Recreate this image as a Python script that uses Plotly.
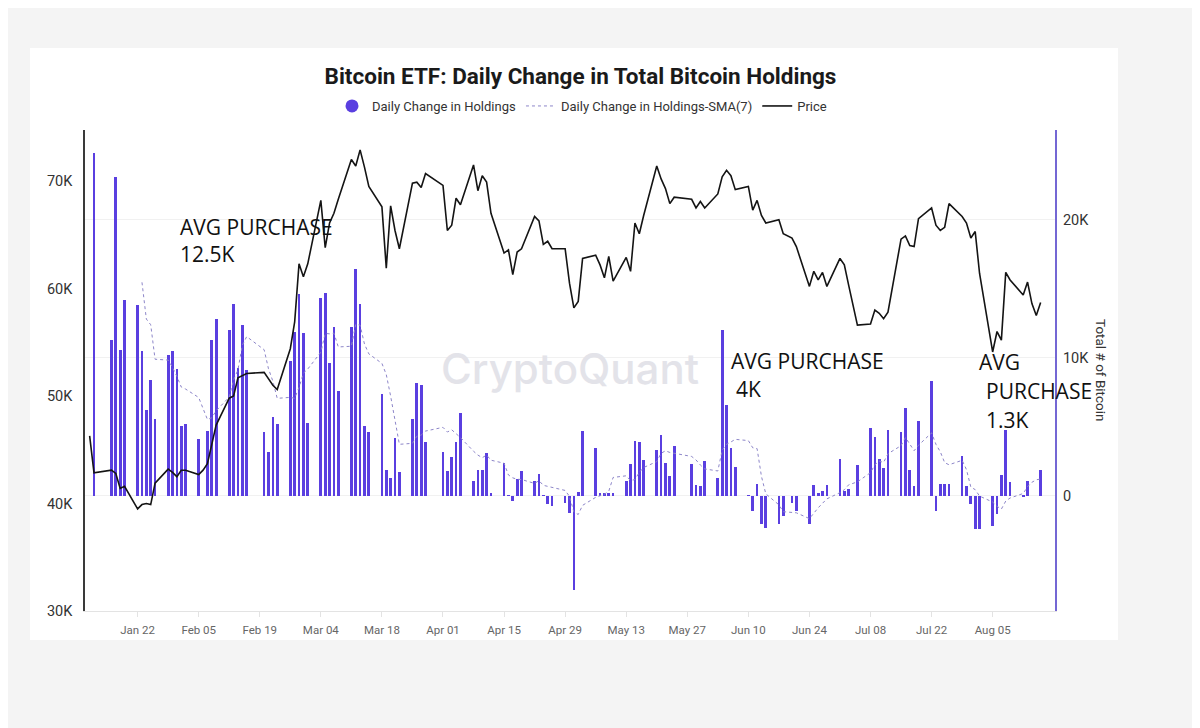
import plotly.graph_objects as go

# ---------------- data ----------------
dates = [
    "2024-01-11", "2024-01-12", "2024-01-16", "2024-01-17", "2024-01-18", "2024-01-19",
    "2024-01-22", "2024-01-23", "2024-01-24", "2024-01-25", "2024-01-26",
    "2024-01-29", "2024-01-30", "2024-01-31",
    "2024-02-01", "2024-02-02", "2024-02-05", "2024-02-06", "2024-02-07", "2024-02-08", "2024-02-09",
    "2024-02-12", "2024-02-13", "2024-02-14", "2024-02-15", "2024-02-16",
    "2024-02-20", "2024-02-21", "2024-02-22", "2024-02-23",
    "2024-02-26", "2024-02-27", "2024-02-28", "2024-02-29",
    "2024-03-01", "2024-03-04", "2024-03-05", "2024-03-06", "2024-03-07", "2024-03-08",
    "2024-03-11", "2024-03-12", "2024-03-13", "2024-03-14", "2024-03-15",
    "2024-03-18", "2024-03-19", "2024-03-20", "2024-03-21", "2024-03-22",
    "2024-03-25", "2024-03-26", "2024-03-27", "2024-03-28",
    "2024-04-01", "2024-04-02", "2024-04-03", "2024-04-04", "2024-04-05",
    "2024-04-08", "2024-04-09", "2024-04-10", "2024-04-11", "2024-04-12",
    "2024-04-15", "2024-04-16", "2024-04-17", "2024-04-18", "2024-04-19",
    "2024-04-22", "2024-04-23", "2024-04-24", "2024-04-25", "2024-04-26",
    "2024-04-29", "2024-04-30",
    "2024-05-01", "2024-05-02", "2024-05-03", "2024-05-06", "2024-05-07", "2024-05-08", "2024-05-09",
    "2024-05-10", "2024-05-13", "2024-05-14", "2024-05-15", "2024-05-16", "2024-05-17",
    "2024-05-20", "2024-05-21", "2024-05-22", "2024-05-23", "2024-05-24",
    "2024-05-28", "2024-05-29", "2024-05-30", "2024-05-31",
    "2024-06-03", "2024-06-04", "2024-06-05", "2024-06-06", "2024-06-07",
    "2024-06-10", "2024-06-11", "2024-06-12", "2024-06-13", "2024-06-14",
    "2024-06-17", "2024-06-18", "2024-06-20", "2024-06-21",
    "2024-06-24", "2024-06-25", "2024-06-26", "2024-06-27", "2024-06-28",
    "2024-07-01", "2024-07-02", "2024-07-03", "2024-07-05",
    "2024-07-08", "2024-07-09", "2024-07-10", "2024-07-11", "2024-07-12",
    "2024-07-15", "2024-07-16", "2024-07-17", "2024-07-18", "2024-07-19",
    "2024-07-22", "2024-07-23", "2024-07-24", "2024-07-25", "2024-07-26",
    "2024-07-29", "2024-07-30", "2024-07-31",
    "2024-08-01", "2024-08-02", "2024-08-05", "2024-08-06", "2024-08-07", "2024-08-08", "2024-08-09",
    "2024-08-12", "2024-08-13", "2024-08-14", "2024-08-15", "2024-08-16",
]

# BTC price, thousands of USD
price_k = [
    46.3, 42.85, 43.1, 42.8, 41.4, 41.6, 39.5, 39.9, 40.0, 39.9, 41.9, 43.2, 42.9, 42.5,
    43.1, 43.1, 42.7, 43.1, 43.7, 45.5, 47.3, 49.8, 50.0, 51.7, 51.9, 52.1, 52.2, 51.6, 51.0, 50.6,
    54.4, 56.9, 62.3, 61.1,
    62.3, 68.2, 63.8, 66.1, 67.0, 68.3, 72.0, 71.4, 72.9, 71.3, 69.5, 67.6, 61.9, 67.7, 65.4, 63.7,
    69.8, 69.9, 69.4, 70.7,
    69.6, 65.4, 65.9, 68.4, 67.8, 71.5, 69.1, 70.5, 69.9, 67.0, 63.3, 63.6, 61.3, 63.4, 63.7,
    66.7, 66.3, 64.1, 64.4, 63.7, 63.7, 60.5,
    58.2, 58.8, 62.8, 63.1, 62.2, 61.0, 63.0, 60.7, 62.9, 61.6, 66.1, 65.1, 66.8, 71.4, 70.2,
    69.3, 67.9, 68.5, 68.3, 67.5, 68.1, 67.5,
    68.8, 70.4, 71.0, 70.5, 69.2, 69.5, 67.3, 68.2, 66.8, 66.1, 66.4, 65.1, 64.7, 63.9,
    60.2, 61.6, 60.8, 61.5, 60.2,
    62.8, 62.2, 60.3, 56.6, 56.7, 58.0, 57.7, 57.2, 57.8, 64.6, 64.9, 64.0, 63.9, 66.5,
    67.5, 65.9, 65.4, 65.7, 67.9, 66.7, 66.1, 64.7,
    65.3, 61.4, 54.1, 56.0, 55.2, 61.5, 60.8, 59.4, 60.6, 58.6, 57.5, 58.7,
]

# Daily change in ETF holdings, thousands of BTC
change_k = [
    None, 24.8, 11.3, 23.1, 10.6, 14.2, 13.8, 10.5, 6.2, 8.4, 5.6, 10.2, 10.5, 9.2,
    5.1, 5.2, 4.1, 0.0, 4.7, 11.3, 12.8, 12.0, 13.9, 9.3, 12.4, 9.1, 4.6, 3.2, 5.7, 5.2,
    9.8, 11.9, 14.6, 11.8,
    5.3, 14.3, 14.7, 9.6, 12.2, 7.6, 12.2, 16.4, 13.9, 5.1, 4.6, 7.4, 1.9, 1.3, 4.2, 1.7,
    5.6, 8.2, 8.0, 3.9,
    3.2, 1.8, 2.8, 3.9, 6.0, 1.1, 1.9, 1.9, 3.1, 0.2, 2.4, 0.05, -0.4, 1.2, 1.8,
    1.1, 1.6, 0.05, -0.55, -0.7, -0.5, -1.2,
    -6.8, 0.3, 4.7, 3.5, 0.2, 0.2, 0.25, 0.25, 1.1, 2.3, 4.0, 3.9, 2.6, 3.3, 4.4,
    2.4, 1.45, 3.6, 2.3, 0.8, 0.7, 2.5,
    1.3, 12.0, 6.6, 3.5, 2.1, 0.05, -1.1, 0.85, -2.05, -2.3, -2.0, -1.45, -0.5, -1.1,
    -2.05, 0.8, 0.25, 0.35, 0.8,
    2.65, 0.35, 0.5, 2.25, 4.95, 4.3, 2.65, 2.0, 4.75, 4.6, 6.35, 1.9, 0.7, 5.4,
    8.3, -1.1, 0.85, 0.85, 0.85, 2.9, 0.7, -0.55,
    -2.4, -2.4, -2.2, -1.3, 1.5, 4.75, 1.0, -0.1, 1.05, 0.0, 0.0, 1.9,
]

# 7-day SMA line as drawn, thousands of BTC
sma7_k = [
    None, None, None, None, None, None, None, 15.47, 12.81, 12.40, 9.90, 9.84, 9.31, 8.66,
    7.89, 7.74, 7.13, 6.33, 5.54, 5.66, 6.17, 7.16, 8.40, 9.14, 10.91, 11.54, 10.59, 9.21, 8.31, 7.07,
    7.14, 7.07, 7.86, 8.89,
    9.19, 10.41, 11.77, 11.74, 11.79, 10.79, 10.84, 12.43, 12.37, 11.0, 10.29, 9.6, 8.79, 7.23, 5.49, 3.74,
    3.81, 4.33, 4.41, 4.70,
    4.97, 4.63, 4.79, 4.54, 4.23, 3.24, 2.96, 2.77, 2.96, 2.59, 2.37, 1.52, 1.31, 1.21, 1.19,
    0.91, 1.11, 0.77, 0.69, 0.64, 0.40, -0.03,
    -1.16, -1.34, -0.68, -0.1, 0.03, 0.13, 0.34, 1.34, 1.46, 1.11, 1.19, 1.71, 2.06, 2.49, 3.09,
    3.27, 3.15, 3.09, 2.86, 2.61, 2.24, 1.96,
    1.81, 3.31, 3.74, 3.91, 4.1, 4.01, 3.49, 3.43, 1.42, 0.15, -0.64, -1.14, -1.22, -1.22,
    -1.64, -1.23, -0.86, -0.53, -0.21,
    0.24, 0.45, 0.81, 1.02, 1.69, 2.26, 2.52, 2.43, 3.06, 3.64, 4.23, 3.79, 3.28, 3.67,
    4.57, 3.74, 3.2, 2.41, 2.26, 2.58, 1.91, 0.64,
    0.46, -0.01, -0.44, -0.75, -0.95, -0.37, -0.15, 0.18, 0.67, 0.99, 1.17, 1.23,
]

x_tick_dates = ["2024-01-22", "2024-02-05", "2024-02-19", "2024-03-04", "2024-03-18",
                "2024-04-01", "2024-04-15", "2024-04-29", "2024-05-13", "2024-05-27",
                "2024-06-10", "2024-06-24", "2024-07-08", "2024-07-22", "2024-08-05"]
x_tick_labels = ["Jan 22", "Feb 05", "Feb 19", "Mar 04", "Mar 18", "Apr 01", "Apr 15",
                 "Apr 29", "May 13", "May 27", "Jun 10", "Jun 24", "Jul 08", "Jul 22", "Aug 05"]
price_ticks = [30, 40, 50, 60, 70]
price_tick_labels = ["30K", "40K", "50K", "60K", "70K"]
hold_ticks = [0, 10, 20]
hold_tick_labels = ["0", "10K", "20K"]

# ---------------- styling / layout ----------------
W, H = 1200, 728
OFF = 8  # page body margin: the figure is drawn 8px right and 8px down
# plot area in screen pixels (as in the reference)
SL, SR, ST, SB = 85, 1055, 130, 611
L, R, T, B = SL - OFF, SR - OFF, ST - OFF, SB - OFF  # figure pixels
BAR = "#5a3fe0"
SMA_C = "#8d86c9"


def px_x(p):
    """screen pixel x -> paper x"""
    return (p - SL) / (SR - SL)


def px_y(p):
    """screen pixel y -> paper y"""
    return (SB - p) / (SB - ST)


fig = go.Figure()

fig.add_trace(go.Bar(
    x=dates, y=change_k, yaxis="y2", marker=dict(color=BAR, line=dict(width=0)),
    width=0.62 * 86400000, showlegend=False, name="Daily Change in Holdings",
))
fig.add_trace(go.Scatter(
    x=dates, y=sma7_k, yaxis="y2", mode="lines",
    line=dict(color=SMA_C, width=1, dash="dot"),
    name="Daily Change in Holdings-SMA(7)", legendrank=2,
))
fig.add_trace(go.Scatter(
    x=dates, y=price_k, yaxis="y", mode="lines",
    line=dict(color="#141414", width=1.6),
    name="Price", legendrank=3,
))
# legend entry with a round marker for the bars
fig.add_trace(go.Scatter(
    x=[None], y=[None], yaxis="y2", mode="markers",
    marker=dict(symbol="circle", size=13, color=BAR),
    name="Daily Change in Holdings", legendrank=1,
))

fig.update_layout(
    width=W, height=H,
    margin=dict(l=L, r=W - R, t=T, b=H - B, pad=0),
    paper_bgcolor="#f4f4f4",
    plot_bgcolor="rgba(0,0,0,0)",
    font=dict(family="Roboto, Inter, sans-serif", color="#333"),
    bargap=0,
    title=dict(
        text="Bitcoin ETF: Daily Change in Total Bitcoin Holdings",
        x=(580.5 - OFF) / W, xanchor="center", xref="container",
        y=1 - (76 - OFF) / H, yanchor="middle", yref="container",
        font=dict(family="Roboto", size=22.5, color="#1a1a1a", weight=700),
    ),
    legend=dict(
        orientation="h", x=px_x(582), xanchor="center", y=px_y(106), yanchor="middle",
        font=dict(family="Roboto", size=13, color="#333"),
        bgcolor="rgba(0,0,0,0)", itemwidth=30, traceorder="normal",
    ),
    xaxis=dict(
        type="date",
        range=["2024-01-09 22:30", "2024-08-19 07:00"],
        tickvals=x_tick_dates, ticktext=x_tick_labels,
        showgrid=False, zeroline=False,
        showline=True, linecolor="#e3e3e3", linewidth=1,
        ticks="outside", ticklen=5, tickcolor="#e3e3e3",
        tickfont=dict(family="Roboto", size=11.5, color="#666"),
        ticklabelstandoff=3,
    ),
    yaxis=dict(
        range=[30, 74.75], tickvals=price_ticks, ticktext=price_tick_labels,
        side="left", overlaying="y2",
        showgrid=False, zeroline=False,
        showline=True, linecolor="#3a3a3a", linewidth=1.5,
        ticks="", tickfont=dict(family="Roboto", size=14.5, color="#333"),
        ticklabelstandoff=8,
    ),
    yaxis2=dict(
        range=[-8.33, 26.5], tickvals=hold_ticks, ticktext=hold_tick_labels,
        side="right", anchor="x",
        showgrid=True, gridcolor="#f1f1f1", gridwidth=1, zeroline=False,
        showline=True, linecolor="#7467d4", linewidth=2,
        ticks="", tickfont=dict(family="Roboto", size=14.5, color="#333"),
        ticklabelstandoff=3,
    ),
    shapes=[dict(
        type="rect", xref="paper", yref="paper", layer="below",
        x0=px_x(30), x1=px_x(1118), y0=px_y(640), y1=px_y(48),
        fillcolor="white", line=dict(width=0),
    )],
)

ann_font = dict(family="Open Sans", size=21, color="#111")
annotations = [
    dict(text="CryptoQuant", x=px_x(570), y=px_y(368), xanchor="center", yanchor="middle",
         font=dict(family="Inter", size=42, color="#e3e3e9", weight=500)),
    dict(text="Total # of Bitcoin", x=px_x(1101), y=px_y(370), xanchor="center", yanchor="middle",
         textangle=90, font=dict(family="Roboto", size=13.5, color="#333")),
    dict(text="AVG PURCHASE", x=px_x(178), y=px_y(226.5), xanchor="left", yanchor="middle", font=ann_font),
    dict(text="12.5K", x=px_x(178), y=px_y(254), xanchor="left", yanchor="middle", font=ann_font),
    dict(text="AVG PURCHASE", x=px_x(729), y=px_y(360.5), xanchor="left", yanchor="middle", font=ann_font),
    dict(text="4K", x=px_x(734), y=px_y(389), xanchor="left", yanchor="middle", font=ann_font),
    dict(text="AVG", x=px_x(977), y=px_y(362), xanchor="left", yanchor="middle", font=ann_font),
    dict(text="PURCHASE", x=px_x(983.5), y=px_y(390.5), xanchor="left", yanchor="middle", font=ann_font),
    dict(text="1.3K", x=px_x(983.5), y=px_y(420), xanchor="left", yanchor="middle", font=ann_font),
]
for a in annotations:
    a.update(xref="paper", yref="paper", showarrow=False)
fig.update_layout(annotations=annotations)

fig.write_html("out.html")
